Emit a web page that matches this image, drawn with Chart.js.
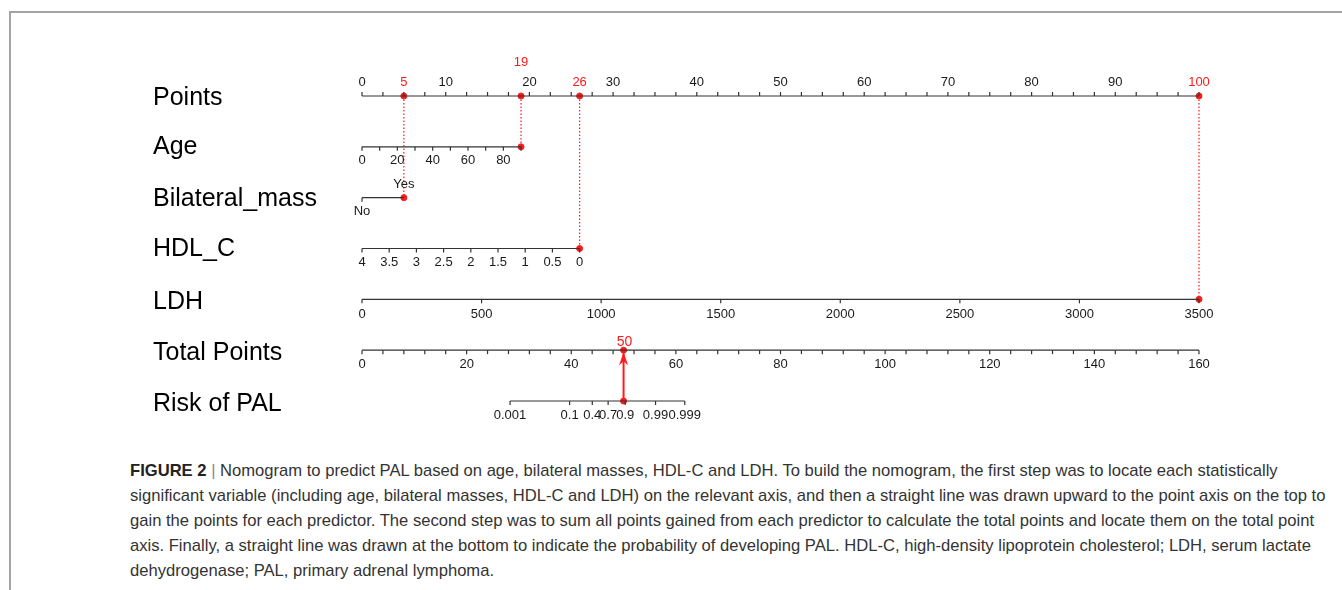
<!DOCTYPE html>
<html>
<head>
<meta charset="utf-8">
<script src="https://cdn.jsdelivr.net/npm/chart.js@4.4.1/dist/chart.umd.min.js"></script>
<style>
  body { margin: 0; background: #fff; width: 1342px; height: 590px; overflow: hidden; position: relative; font-family: "Liberation Sans", Arial, sans-serif; }
  #frame { position: absolute; left: 9px; top: 11px; width: 1340px; height: 590px; border-top: 2px solid #a3a3a3; border-left: 2px solid #a3a3a3; }
  #wrap { position: absolute; left: 0; top: 0; width: 1342px; height: 430px; }
  #caption { position: absolute; left: 130px; top: 458px; font-size: 16.6px; line-height: 25px; color: #333; white-space: nowrap; }
  #caption b { color: #222; }
  #caption .bar { color: #888; }
</style>
</head>
<body>
<div id="frame"></div>
<div id="wrap"><canvas id="nomo" width="1342" height="430"></canvas></div>
<div id="caption">
<b>FIGURE 2</b> <span class="bar">|</span> Nomogram to predict PAL based on age, bilateral masses, HDL-C and LDH. To build the nomogram, the first step was to locate each statistically<br>
significant variable (including age, bilateral masses, HDL-C and LDH) on the relevant axis, and then a straight line was drawn upward to the point axis on the top to<br>
gain the points for each predictor. The second step was to sum all points gained from each predictor to calculate the total points and locate them on the total point<br>
axis. Finally, a straight line was drawn at the bottom to indicate the probability of developing PAL. HDL-C, high-density lipoprotein cholesterol; LDH, serum lactate<br>
dehydrogenase; PAL, primary adrenal lymphoma.
</div>
<script>
// rows of the nomogram, top to bottom
const rowNames = ["Points", "Age", "Bilateral_mass", "HDL_C", "LDH", "Total Points", "Risk of PAL"];

// Points axis
const pointsLabels = [0, 10, 20, 30, 40, 50, 60, 70, 80, 90, 100];
const pointsMinor = 2.5;

// Age: 0..90 -> 0..19 points
const ageLabels = [0, 20, 40, 60, 80];
const ageRange = [0, 90];
const agePoints = 19;

// Bilateral mass
const massLabels = ["No", "Yes"];
const massPoints = [0, 5];

// HDL-C: 4..0 -> 0..26 points
const hdlLabels = [4, 3.5, 3, 2.5, 2, 1.5, 1, 0.5, 0];
const hdlPoints = 26;

// LDH: 0..3500 -> 0..100 points
const ldhLabels = [0, 500, 1000, 1500, 2000, 2500, 3000, 3500];
const ldhPoints = 100;

// Total points 0..160
const totalLabels = [0, 20, 40, 60, 80, 100, 120, 140, 160];
const totalMinor = 4;
const totalMax = 160;

// Risk of PAL (logit model)
const riskLabels = ["0.001", "0.1", "0.4", "0.7", "0.9", "0.99", "0.999"];
const riskCenter = 45;     // total points where risk = 0.5
const riskSlope = 0.4136;  // logit per total point

// the case marked in red
const caseAgePts = 19, caseMassPts = 5, caseHdlPts = 26, caseLdhPts = 100;
const caseTotal = 50;

// helpers: everything lives on the 0..100 "points" x scale
const ageToPts = a => (a - ageRange[0]) / (ageRange[1] - ageRange[0]) * agePoints;
const hdlToPts = h => (4 - h) / 4 * hdlPoints;
const ldhToPts = l => l / 3500 * ldhPoints;
const totToPts = t => t / totalMax * 100;
const riskToPts = p => { let lg = Math.log(p / (1 - p)); return totToPts(riskCenter + lg / riskSlope); };

const RED = "#ff1a1a";
const AX = "#333";

function axisLine(row, x0, x1) {
    return { type: "line", data: [{ x: x0, y: row }, { x: x1, y: row }], borderColor: AX, borderWidth: 1.2, pointRadius: 0, clip: false };
}
function guide(x, row) {
    return { type: "line", data: [{ x: x, y: 0 }, { x: x, y: row }], borderColor: RED, borderWidth: 1.2, borderDash: [1.5, 2], pointRadius: 0, clip: false };
}

let riskLo = riskToPts(Number(riskLabels[0]));
let riskHi = riskToPts(Number(riskLabels[riskLabels.length - 1]));

let datasets = [
    axisLine(0, 0, 100),
    axisLine(1, 0, ageToPts(90)),
    axisLine(2, massPoints[0], massPoints[1]),
    axisLine(3, 0, hdlPoints),
    axisLine(4, 0, ldhPoints),
    axisLine(5, 0, 100),
    axisLine(6, riskLo, riskHi),
    guide(caseMassPts, 2),
    guide(caseAgePts, 1),
    guide(caseHdlPts, 3),
    guide(caseLdhPts, 4),
    { type: "line", data: [{ x: totToPts(caseTotal), y: 6 }, { x: totToPts(caseTotal), y: 5.06 }], borderColor: RED, borderWidth: 2, pointRadius: 0, clip: false },
    {
        type: "scatter",
        data: [
            { x: caseMassPts, y: 0 }, { x: caseAgePts, y: 0 }, { x: caseHdlPts, y: 0 }, { x: caseLdhPts, y: 0 },
            { x: caseAgePts, y: 1 }, { x: caseMassPts, y: 2 }, { x: caseHdlPts, y: 3 }, { x: caseLdhPts, y: 4 },
            { x: totToPts(caseTotal), y: 5 }, { x: totToPts(caseTotal), y: 6 }
        ],
        backgroundColor: RED, borderColor: RED, pointRadius: 3, clip: false
    }
];

// ticks, tick labels, row names and the arrow head
const nomoPlugin = {
    id: "nomo",
    afterDatasetsDraw(chart) {
        const ctx = chart.ctx;
        const xs = chart.scales.x, ys = chart.scales.y;
        const X = v => xs.getPixelForValue(v);
        const Y = r => ys.getPixelForValue(r);
        const tickLen = 4;

        function tick(px, row, up) {
            let y = Y(row);
            ctx.beginPath();
            ctx.moveTo(px, y);
            ctx.lineTo(px, up ? y - tickLen : y + tickLen);
            ctx.stroke();
        }
        function label(txt, px, py, color) {
            ctx.fillStyle = color || "#1a1a1a";
            ctx.fillText(txt, px, py);
        }

        ctx.save();
        ctx.strokeStyle = AX;
        ctx.lineWidth = 1.2;
        ctx.font = "13px 'Liberation Sans', Arial, sans-serif";
        ctx.textAlign = "center";
        ctx.textBaseline = "middle";

        // Points axis (ticks up, labels above)
        for (let v = 0; v <= 100; v += pointsMinor) tick(X(v), 0, true);
        pointsLabels.forEach(v => {
            if (v === 100) return;
            label(String(v), X(v), Y(0) - 14);
        });
        label("5", X(caseMassPts), Y(0) - 14, RED);
        label("19", X(caseAgePts), Y(0) - 34, RED);
        label("26", X(caseHdlPts), Y(0) - 14, RED);
        label("100", X(caseLdhPts), Y(0) - 14, RED);

        // Age
        for (let a = ageRange[0]; a <= ageRange[1]; a += 10) tick(X(ageToPts(a)), 1, false);
        ageLabels.forEach(a => label(String(a), X(ageToPts(a)), Y(1) + 14));

        // Bilateral mass
        tick(X(massPoints[0]), 2, false);
        label(massLabels[0], X(massPoints[0]), Y(2) + 14);
        label(massLabels[1], X(massPoints[1]), Y(2) - 13);

        // HDL-C
        hdlLabels.forEach(h => { tick(X(hdlToPts(h)), 3, false); label(String(h), X(hdlToPts(h)), Y(3) + 14); });

        // LDH
        ldhLabels.forEach(l => { tick(X(ldhToPts(l)), 4, false); label(String(l), X(ldhToPts(l)), Y(4) + 15); });

        // Total points
        for (let t = 0; t <= totalMax; t += totalMinor) tick(X(totToPts(t)), 5, false);
        totalLabels.forEach(t => label(String(t), X(totToPts(t)), Y(5) + 14));
        ctx.font = "14px 'Liberation Sans', Arial, sans-serif";
        label(String(caseTotal), X(totToPts(caseTotal)) + 1, Y(5) - 8, RED);

        // Risk
        ctx.font = "13px 'Liberation Sans', Arial, sans-serif";
        riskLabels.forEach(p => { tick(X(riskToPts(Number(p))), 6, false); label(p, X(riskToPts(Number(p))), Y(6) + 14); });

        // arrow head
        let ax = X(totToPts(caseTotal)), ay = Y(5) + 2;
        ctx.fillStyle = RED;
        ctx.beginPath();
        ctx.moveTo(ax, ay);
        ctx.lineTo(ax - 4.5, ay + 13);
        ctx.lineTo(ax, ay + 9);
        ctx.lineTo(ax + 4.5, ay + 13);
        ctx.closePath();
        ctx.fill();

        // row names
        ctx.font = "25px 'Liberation Sans', Arial, sans-serif";
        ctx.textAlign = "left";
        ctx.fillStyle = "#000";
        rowNames.forEach((n, i) => ctx.fillText(n, 153, Y(i) + [2, 0, 1, 1, 3, 3, 3][i]));
        ctx.restore();
    }
};

new Chart(document.getElementById("nomo"), {
    type: "scatter",
    data: { datasets: datasets },
    options: {
        responsive: false,
        animation: false,
        layout: { padding: { left: 362, right: 143, top: 96, bottom: 29 } },
        plugins: { legend: { display: false }, tooltip: { enabled: false } },
        scales: {
            x: { type: "linear", min: 0, max: 100, display: false },
            y: { type: "linear", min: 0, max: 6, reverse: true, display: false }
        }
    },
    plugins: [nomoPlugin]
});
</script>
</body>
</html>
